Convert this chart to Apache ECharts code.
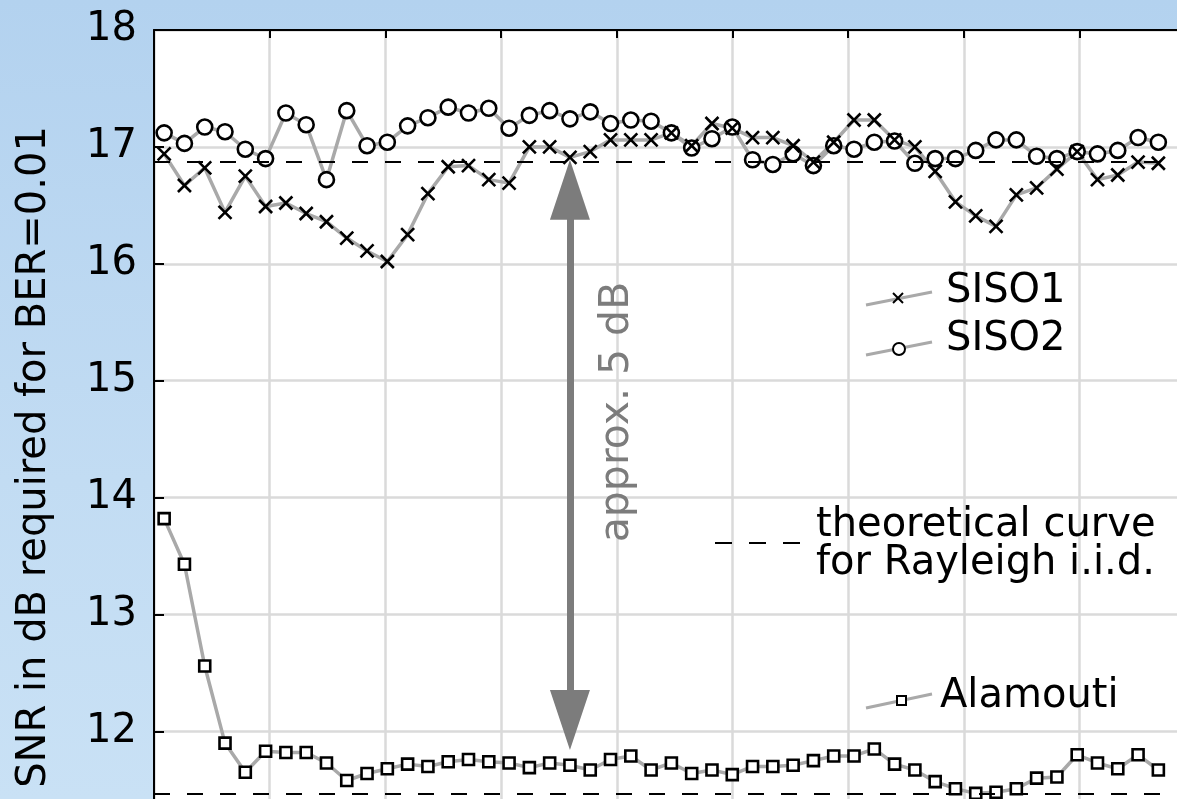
<!DOCTYPE html>
<html>
<head>
<meta charset="utf-8">
<title>SNR required for BER=0.01</title>
<script src="https://cdn.jsdelivr.net/npm/echarts@6/dist/echarts.min.js"></script>
<style>
  html, body { margin: 0; padding: 0; }
  #chart {
    width: 1177px;
    height: 799px;
    background: linear-gradient(180deg, #b3d2ef 0%, #c2dcf3 60%, #c9e1f5 100%);
  }
</style>
</head>
<body>
<div id="chart"></div>
<script>
  // measurement positions (sample number along the route)
  const samples = [1, 2, 3, 4, 5, 6, 7, 8, 9, 10, 11, 12, 13, 14, 15, 16, 17, 18, 19, 20,
    21, 22, 23, 24, 25, 26, 27, 28, 29, 30, 31, 32, 33, 34, 35, 36, 37, 38, 39, 40,
    41, 42, 43, 44, 45, 46, 47, 48, 49, 50]

  // SNR in dB required for BER=0.01
  const siso1 = [16.94, 16.67, 16.82, 16.44, 16.75, 16.49, 16.52, 16.43, 16.36, 16.22,
    16.11, 16.02, 16.25, 16.60, 16.83, 16.84, 16.72, 16.69, 17.00, 17.00,
    16.91, 16.96, 17.06, 17.06, 17.06, 17.12, 17.01, 17.20, 17.16, 17.08,
    17.08, 17.01, 16.87, 17.04, 17.23, 17.23, 17.06, 17.00, 16.79, 16.53,
    16.41, 16.32, 16.59, 16.65, 16.81, 16.96, 16.72, 16.76, 16.87, 16.86]
  const siso2 = [17.12, 17.03, 17.17, 17.13, 16.98, 16.90, 17.29, 17.19, 16.72, 17.31,
    17.01, 17.04, 17.18, 17.25, 17.34, 17.29, 17.33, 17.16, 17.27, 17.31,
    17.24, 17.30, 17.20, 17.23, 17.22, 17.12, 16.99, 17.07, 17.17, 16.89,
    16.85, 16.94, 16.84, 17.01, 16.98, 17.04, 17.05, 16.86, 16.90, 16.90,
    16.97, 17.06, 17.06, 16.92, 16.90, 16.96, 16.94, 16.97, 17.08, 17.04]
  const alamouti = [13.82, 13.43, 12.56, 11.90, 11.65, 11.83, 11.82, 11.82, 11.73, 11.58,
    11.64, 11.68, 11.72, 11.70, 11.74, 11.76, 11.74, 11.73, 11.69, 11.73,
    11.71, 11.67, 11.76, 11.79, 11.67, 11.73, 11.64, 11.67, 11.63, 11.70,
    11.70, 11.71, 11.75, 11.79, 11.79, 11.85, 11.72, 11.67, 11.57, 11.51,
    11.47, 11.48, 11.51, 11.60, 11.61, 11.80, 11.73, 11.68, 11.80, 11.67]

  // theoretical curves for Rayleigh i.i.d.
  const theorySiso = 16.87
  const theoryAlamouti = 11.47

  // "approx. 5 dB" gap arrow
  const gapAt = 21
  const gapTop = 16.89
  const gapBottom = 11.84

  const yTicks = [11, 12, 13, 14, 15, 16, 17, 18]

  const FONT = 'DejaVu Sans'
  const LINE_GRAY = '#a9a9a9'
  const ARROW_GRAY = '#7c7c7c'
  const X_PATH = 'path://M0 0L10 10M10 0L0 10'

  const chart = echarts.init(document.getElementById('chart'), null, { renderer: 'canvas' })

  const pairs = vals => samples.map((s, i) => [s, vals[i]])

  // arrow heads are drawn centred on the markLine ends, so pull the ends in by half a head
  const headH = 60
  const unitPx = 116.9
  const headHalf = headH / 2 / unitPx

  const markerSeries = (name, vals, symbol, size, border) => ({
    name: name,
    type: 'line',
    data: pairs(vals),
    symbol: symbol,
    symbolSize: size,
    showAllSymbol: true,
    lineStyle: { color: LINE_GRAY, width: 3.5 },
    itemStyle: { color: '#fff', borderColor: '#000', borderWidth: border },
    emphasis: { disabled: true },
    z: 3
  })

  const siso1Series = markerSeries('SISO1', siso1, X_PATH, 13, 2.6)
  siso1Series.itemStyle = { color: '#000', borderColor: '#000', borderWidth: 2.6 }

  const options = {
    animation: false,
    backgroundColor: 'transparent',
    grid: {
      left: 154,
      top: 30,
      right: -23,
      height: 7 * unitPx,
      outerBoundsMode: 'none',
      containLabel: false,
      show: true,
      backgroundColor: '#fff',
      borderWidth: 0
    },
    xAxis: [
      {
        type: 'value',
        min: 0.5,
        max: 0.5 + 1046 / 20.29,
        show: false
      },
      {
        type: 'value',
        position: 'top',
        min: 0,
        max: 1046 / 115.7,
        interval: 1,
        axisLine: { show: true, lineStyle: { color: '#000', width: 2 } },
        axisTick: { show: true, inside: true, length: 8, lineStyle: { color: '#000', width: 2 } },
        axisLabel: { show: false },
        splitLine: { show: true, lineStyle: { color: '#dadada', width: 2.5 } }
      }
    ],
    yAxis: {
      type: 'value',
      min: yTicks[0],
      max: yTicks[yTicks.length - 1],
      interval: 1,
      axisLine: { show: true, lineStyle: { color: '#000', width: 2 } },
      axisTick: { show: true, inside: true, length: 10, lineStyle: { color: '#000', width: 2 } },
      axisLabel: { color: '#000', fontFamily: FONT, fontSize: 40, margin: 17 },
      splitLine: { show: true, lineStyle: { color: '#dadada', width: 2.5 } }
    },
    series: [
      markerSeries('SISO2', siso2, 'circle', 15, 2.6),
      siso1Series,
      markerSeries('Alamouti', alamouti, 'rect', 11, 2.6),
      {
        name: 'theory',
        type: 'line',
        data: [],
        markLine: {
          silent: true,
          symbol: 'none',
          label: { show: false },
          lineStyle: { color: '#000', width: 2, type: [16, 17] },
          data: [{ yAxis: theorySiso }, { yAxis: theoryAlamouti }]
        },
        z: 2
      },
      {
        name: 'gap',
        type: 'line',
        data: [],
        markLine: {
          silent: true,
          symbol: ['triangle', 'triangle'],
          symbolSize: [40, headH],
          label: { show: false },
          lineStyle: { color: ARROW_GRAY, width: 7, type: 'solid' },
          itemStyle: { color: ARROW_GRAY },
          data: [[
            { coord: [gapAt, gapTop - headHalf] },
            { coord: [gapAt, gapBottom + headHalf] }
          ]]
        },
        z: 4
      }
    ],
    graphic: [
      // y axis title
      {
        type: 'text', x: 35, y: 457, rotation: Math.PI / 2,
        style: { text: 'SNR in dB required for BER=0.01', fill: '#000', font: '40px "DejaVu Sans"', align: 'center', verticalAlign: 'middle' }
      },
      // gap annotation
      {
        type: 'text', x: 617, y: 412, rotation: Math.PI / 2, z: 10,
        style: { text: 'approx. 5 dB', fill: ARROW_GRAY, font: '41px "DejaVu Sans"', align: 'center', verticalAlign: 'middle' }
      },
      // legend: SISO1
      { type: 'line', z: 10, shape: { x1: 866, y1: 305, x2: 932, y2: 292 }, style: { stroke: LINE_GRAY, lineWidth: 3 } },
      { type: 'line', z: 11, shape: { x1: 893, y1: 293, x2: 903, y2: 303 }, style: { stroke: '#000', lineWidth: 2 } },
      { type: 'line', z: 11, shape: { x1: 903, y1: 293, x2: 893, y2: 303 }, style: { stroke: '#000', lineWidth: 2 } },
      {
        type: 'text', x: 946, y: 292, z: 10,
        style: { text: 'SISO1', fill: '#000', font: '40px "DejaVu Sans"', verticalAlign: 'middle' }
      },
      // legend: SISO2
      { type: 'line', z: 10, shape: { x1: 866, y1: 355, x2: 932, y2: 342 }, style: { stroke: LINE_GRAY, lineWidth: 3 } },
      { type: 'circle', z: 11, shape: { cx: 899, cy: 349, r: 6 }, style: { fill: '#fff', stroke: '#000', lineWidth: 2 } },
      {
        type: 'text', x: 946, y: 340, z: 10,
        style: { text: 'SISO2', fill: '#000', font: '40px "DejaVu Sans"', verticalAlign: 'middle' }
      },
      // legend: theoretical curve
      { type: 'line', z: 10, shape: { x1: 715, y1: 543, x2: 800, y2: 543 }, style: { stroke: '#000', lineWidth: 2, lineDash: [17, 17] } },
      {
        type: 'text', x: 816, y: 545, z: 10,
        style: { text: 'theoretical curve\nfor Rayleigh i.i.d.', fill: '#000', font: '40px "DejaVu Sans"', lineHeight: 38, verticalAlign: 'middle' }
      },
      // legend: Alamouti
      { type: 'line', z: 10, shape: { x1: 866, y1: 708, x2: 932, y2: 694 }, style: { stroke: LINE_GRAY, lineWidth: 3 } },
      { type: 'rect', z: 11, shape: { x: 897, y: 696, width: 9, height: 9 }, style: { fill: '#fff', stroke: '#000', lineWidth: 2 } },
      {
        type: 'text', x: 940, y: 697, z: 10,
        style: { text: 'Alamouti', fill: '#000', font: '40px "DejaVu Sans"', verticalAlign: 'middle' }
      }
    ]
  }

  chart.setOption(options)
</script>
</body>
</html>
